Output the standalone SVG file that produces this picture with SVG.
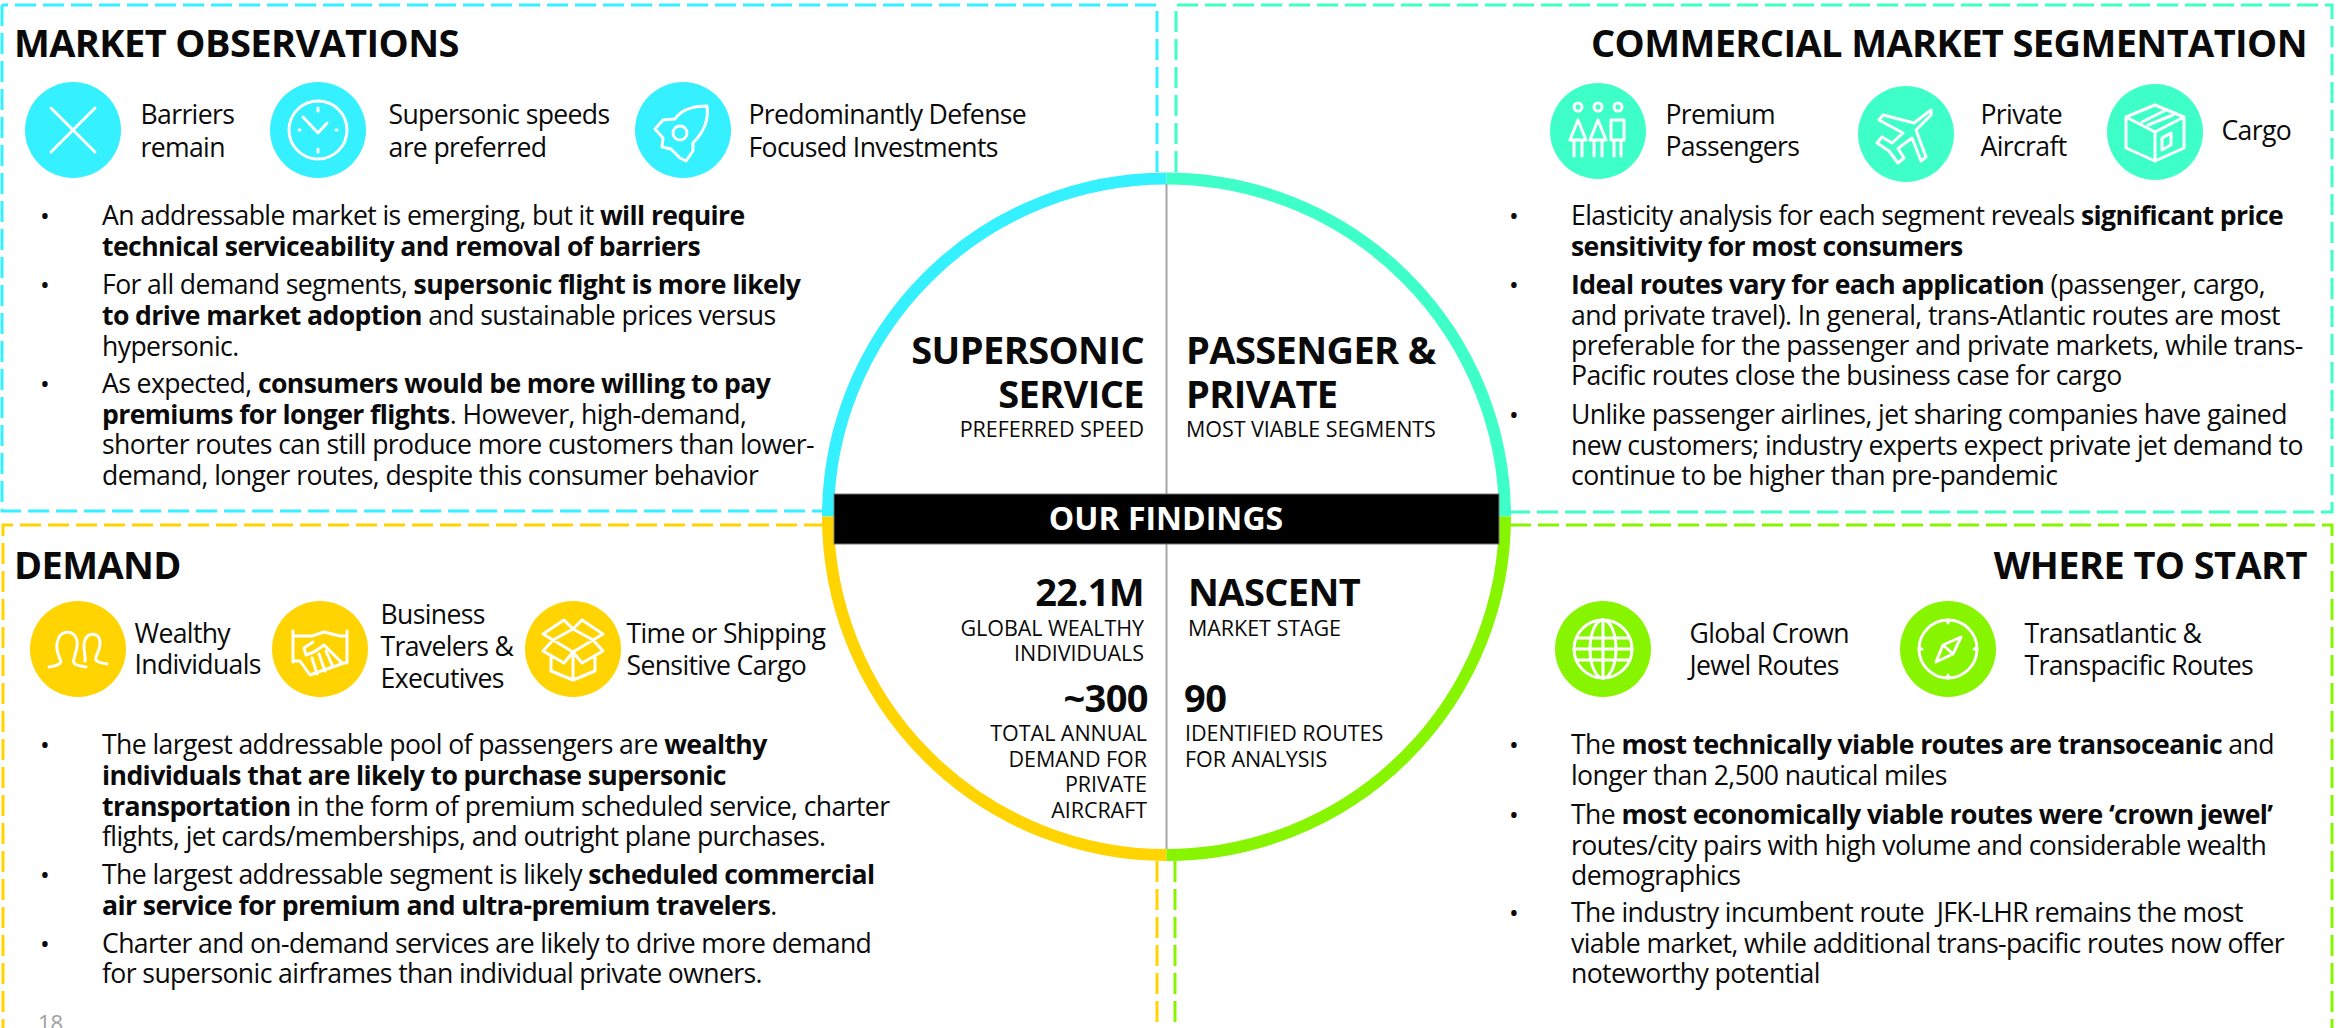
<svg xmlns="http://www.w3.org/2000/svg" width="2348" height="1028" viewBox="0 0 2348 1028">
<style>
text{font-family:"Open Sans","Noto Sans",sans-serif;fill:#0a0a0a}
.h{font-size:38px;font-weight:700;letter-spacing:-.6px}
.b{font-size:26.6px;letter-spacing:-.6px;transform:translateY(1px)}
.l{font-size:26.6px;letter-spacing:-.65px;transform:translate(-.5px,.5px)}
.s{font-size:21.5px;letter-spacing:-.05px}
.e{text-anchor:end}
tspan.k{font-weight:700}
.bu{font-size:26px;transform:translateY(1px)}
.d{fill:none;stroke-width:3;stroke-dasharray:21 7}
.i{fill:none;stroke:#fff;stroke-width:3;stroke-linecap:round;stroke-linejoin:round}
.cy{fill:#35f0ff}.mi{fill:#3fffc8}.ye{fill:#ffd400}.gr{fill:#88f500}
</style>
<rect width="2348" height="1028" fill="#fff"/>
<g id="borders">
<path class="d" stroke="#35f0ff" d="M1157 172V5H2M2 5V511H825"/>
<path class="d" stroke="#3fffc8" d="M1176 172V5H2332V512H1510"/>
<path class="d" stroke="#ffd400" d="M825 525H3V1028M1157 861V1028"/>
<path class="d" stroke="#88f500" d="M1510 525H2332V1028M1175 861V1028"/>
</g>
<g id="findings-circle">
<path d="M1166.5 178.500A338.500 338.500 0 0 0 828 516.500" fill="none" stroke="#35f0ff" stroke-width="12"/>
<path d="M1166.500 178.500A338.500 338.500 0 0 1 1505 516.500" fill="none" stroke="#3fffc8" stroke-width="12"/>
<path d="M828 516.500A338.500 338.500 0 0 0 1166.500 855" fill="none" stroke="#ffd400" stroke-width="12"/>
<path d="M1505 516.500A338.500 338.500 0 0 1 1166.500 855" fill="none" stroke="#88f500" stroke-width="12"/>
<path d="M1166.500 184V849" stroke="#a6a6a6" stroke-width="2"/>
<rect x="834" y="494" width="665" height="50" fill="#000" stroke="#777" stroke-width="1"/>
<text x="1166" y="530" font-size="32" font-weight="700" text-anchor="middle" style="fill:#fff">OUR FINDINGS</text>
<text class="h e" x="1144" y="364">SUPERSONIC</text>
<text class="h e" x="1144" y="408">SERVICE</text>
<text class="s e" x="1144" y="437">PREFERRED SPEED</text>
<text class="h" x="1186" y="364">PASSENGER &amp;</text>
<text class="h" x="1186" y="408">PRIVATE</text>
<text class="s" x="1186" y="437">MOST VIABLE SEGMENTS</text>
<text class="h e" x="1144" y="606">22.1M</text>
<text class="s e" x="1144" y="636">GLOBAL WEALTHY</text>
<text class="s e" x="1144" y="661">INDIVIDUALS</text>
<text class="h e" x="1148" y="712">~300</text>
<text class="s e" x="1147" y="741">TOTAL ANNUAL</text>
<text class="s e" x="1147" y="767">DEMAND FOR</text>
<text class="s e" x="1147" y="792">PRIVATE</text>
<text class="s e" x="1147" y="818">AIRCRAFT</text>
<text class="h" x="1188" y="606">NASCENT</text>
<text class="s" x="1188" y="636">MARKET STAGE</text>
<text class="h" x="1184" y="712">90</text>
<text class="s" x="1185" y="741">IDENTIFIED ROUTES</text>
<text class="s" x="1185" y="767">FOR ANALYSIS</text>
</g>
<g id="market-observations">
<text class="h" x="14" y="57">MARKET OBSERVATIONS</text>
<g id="icon-barriers" transform="translate(73 130)"><circle r="48" class="cy"/><path class="i" d="M-22-22L22 22M22-22L-22 22"/></g>
<text class="l" x="141" y="123">Barriers</text><text class="l" x="141" y="156">remain</text>
<g id="icon-speed" transform="translate(318 130)"><circle r="48" class="cy"/><circle r="29" class="i"/><path class="i" d="M-15-13L0 3L9-7M0-22V-19M0 19V22M-19 0H-18M18 0H19"/></g>
<text class="l" x="389" y="123">Supersonic speeds</text><text class="l" x="389" y="156">are preferred</text>
<g id="icon-rocket" transform="translate(683 130)"><circle r="48" class="cy"/><path class="i" d="M24-24C10-24-2-20-8-11L-20-10L-28-1L-20 8L-21 17L-12 19L-3 28L3 31L10 21L10 13C20 3 26-10 24-24Z"/><circle cx="-3" cy="3" r="7" class="i"/></g>
<text class="l" x="749" y="123">Predominantly Defense</text><text class="l" x="749" y="156">Focused Investments</text>
<text class="bu" x="40" y="224">•</text><text x="102" y="224" class="b">An addressable market is emerging, but it <tspan class="k">will require</tspan></text>
<text x="102" y="255" class="b"><tspan class="k">technical serviceability and removal of barriers</tspan></text>
<text class="bu" x="40" y="293">•</text><text x="102" y="293" class="b">For all demand segments, <tspan class="k">supersonic flight is more likely</tspan></text>
<text x="102" y="324" class="b"><tspan class="k">to drive market adoption</tspan> and sustainable prices versus</text>
<text x="102" y="355" class="b">hypersonic.</text>
<text class="bu" x="40" y="392">•</text><text x="102" y="392" class="b">As expected, <tspan class="k">consumers would be more willing to pay</tspan></text>
<text x="102" y="423" class="b"><tspan class="k">premiums for longer flights</tspan>. However, high-demand,</text>
<text x="102" y="453" class="b">shorter routes can still produce more customers than lower-</text>
<text x="102" y="484" class="b">demand, longer routes, despite this consumer behavior</text>
</g>
<g id="commercial-segmentation">
<text class="h e" x="2307" y="57">COMMERCIAL MARKET SEGMENTATION</text>
<g id="icon-passengers" transform="translate(1598 131)"><circle r="48" class="mi"/><path class="i" d="M-20-11L-28 9H-12ZM-24 9V25M-16 9V25M0-11L-8 9H8ZM-4 9V25M4 9V25M13-11H26V9H13ZM16 9V25M23 9V25"/><circle cx="-20" cy="-24" r="4" class="i"/><circle cy="-24" r="4" class="i"/><circle cx="20" cy="-24" r="4" class="i"/></g>
<text class="l" x="1666" y="123">Premium</text><text class="l" x="1666" y="155">Passengers</text>
<g id="icon-aircraft" transform="translate(1906 134)"><circle r="48" class="mi"/><path class="i" d="M25-24L8-11L-23-19L-27-14L-3-1L-14 9L-24 3L-29 9L-17 17L-8 29L-2 24L-8 14.500L6 4L15 27L20 23L10-4L25-19Z"/></g>
<text class="l" x="1981" y="123">Private</text><text class="l" x="1981" y="155">Aircraft</text>
<g id="icon-cargo" transform="translate(2155 132)"><circle r="48" class="mi"/><path class="i" d="M0-27L29-15V16L0 29L-29 16V-15ZM-29-15L0 0L29-15M0 0V29M-13-10L11-22M-7-7L18-17M7 6L16 1V13L7 18Z"/></g>
<text class="l" x="2222" y="139">Cargo</text>
<text class="bu" x="1509" y="224">•</text><text x="1571" y="224" class="b">Elasticity analysis for each segment reveals <tspan class="k">significant price</tspan></text>
<text x="1571" y="255" class="b"><tspan class="k">sensitivity for most consumers</tspan></text>
<text class="bu" x="1509" y="293">•</text><text x="1571" y="293" class="b"><tspan class="k">Ideal routes vary for each application</tspan> (passenger, cargo,</text>
<text x="1571" y="324" class="b">and private travel). In general, trans-Atlantic routes are most</text>
<text x="1571" y="354" class="b">preferable for the passenger and private markets, while trans-</text>
<text x="1571" y="384" class="b">Pacific routes close the business case for cargo</text>
<text class="bu" x="1509" y="423">•</text><text x="1571" y="423" class="b">Unlike passenger airlines, jet sharing companies have gained</text>
<text x="1571" y="454" class="b">new customers; industry experts expect private jet demand to</text>
<text x="1571" y="484" class="b">continue to be higher than pre-pandemic</text>
</g>
<g id="demand">
<text class="h" x="14" y="579">DEMAND</text>
<g id="icon-wealthy" transform="translate(78 649)"><circle r="48" class="ye"/><path class="i" d="M-29 18C-24 17-19 17-17 13C-20 5-23-2-20-9C-18-19-3-20-1-8C1-1-6 10-4 14C-2 17 4 17 8 18M7 12C8 6 4-2 7-9C10-17 21-17 22-7C23 1 16 8 18 11C20 14 25 14 29 15"/></g>
<text class="l" x="135" y="642">Wealthy</text><text class="l" x="135" y="673">Individuals</text>
<g id="icon-handshake" transform="translate(320 649)"><circle r="48" class="ye"/><path class="i" d="M-27-18V13M27-18V13M-27-13H-8L4-17L20-13H27M-27 12H-20L-10 26L24 14H27M-7-7L-16-1L-14 6L-6 3L4-4L22 14M6 2L13 18M-1 5L5 22M-8 9L-3 25"/></g>
<text class="l" x="381" y="623">Business</text><text class="l" x="381" y="655">Travelers &amp;</text><text class="l" x="381" y="687">Executives</text>
<g id="icon-box" transform="translate(573 649)"><circle r="48" class="ye"/><path class="i" d="M-9-29L-30-15L-20-9L0-20L20-9L30-15L9-29L0-20ZM-20-9L0 3L20-9L30 2L9 14L0 3L-9 14L-30 2ZM-22 8V22L0 31L22 22V8M0 3V31"/></g>
<text class="l" x="627" y="642">Time or Shipping</text><text class="l" x="627" y="674">Sensitive Cargo</text>
<text class="bu" x="40" y="753">•</text><text x="102" y="753" class="b">The largest addressable pool of passengers are <tspan class="k">wealthy</tspan></text>
<text x="102" y="784" class="b"><tspan class="k">individuals that are likely to purchase supersonic</tspan></text>
<text x="102" y="815" class="b"><tspan class="k">transportation</tspan> in the form of premium scheduled service, charter</text>
<text x="102" y="845" class="b">flights, jet cards/memberships, and outright plane purchases.</text>
<text class="bu" x="40" y="883">•</text><text x="102" y="883" class="b">The largest addressable segment is likely <tspan class="k">scheduled commercial</tspan></text>
<text x="102" y="914" class="b"><tspan class="k">air service for premium and ultra-premium travelers</tspan>.</text>
<text class="bu" x="40" y="952">•</text><text x="102" y="952" class="b">Charter and on-demand services are likely to drive more demand</text>
<text x="102" y="982" class="b">for supersonic airframes than individual private owners.</text>
<text x="38" y="1031" font-size="22" style="fill:#a0a0a0">18</text>
</g>
<g id="where-to-start">
<text class="h e" x="2307" y="579">WHERE TO START</text>
<g id="icon-globe" transform="translate(1603 649)"><circle r="48" class="gr"/><circle r="29" class="i"/><ellipse rx="13" ry="29" class="i"/><path class="i" d="M0-29V29M-29 0H29M-26-11H26M-26 11H26"/></g>
<text class="l" x="1690" y="642">Global Crown</text><text class="l" x="1690" y="674">Jewel Routes</text>
<g id="icon-compass" transform="translate(1948 649)"><circle r="48" class="gr"/><circle r="29" class="i"/><path class="i" d="M0-29V-26M0 26V29M-29 0H-26M26 0H29M13-12L-5-4L-12 13L5 5ZM-5-4L5 5"/></g>
<text class="l" x="2025" y="642">Transatlantic &amp;</text><text class="l" x="2025" y="674">Transpacific Routes</text>
<text class="bu" x="1509" y="753">•</text><text x="1571" y="753" class="b">The <tspan class="k">most technically viable routes are transoceanic</tspan> and</text>
<text x="1571" y="784" class="b">longer than 2,500 nautical miles</text>
<text class="bu" x="1509" y="823">•</text><text x="1571" y="823" class="b">The <tspan class="k">most economically viable routes were ‘crown jewel’</tspan></text>
<text x="1571" y="854" class="b">routes/city pairs with high volume and considerable wealth</text>
<text x="1571" y="884" class="b">demographics</text>
<text class="bu" x="1509" y="921">•</text><text x="1571" y="921" class="b">The industry incumbent route &#160;JFK-LHR remains the most</text>
<text x="1571" y="952" class="b">viable market, while additional trans-pacific routes now offer</text>
<text x="1571" y="982" class="b">noteworthy potential</text>
</g>
</svg>
